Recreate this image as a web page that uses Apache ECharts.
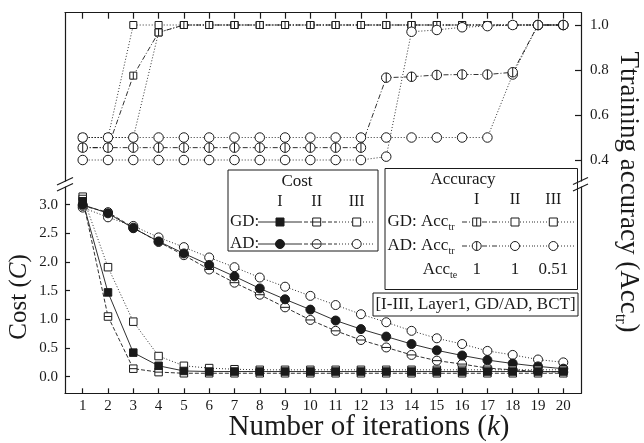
<!DOCTYPE html>
<html><head><meta charset="utf-8">
<script src="https://cdn.jsdelivr.net/npm/echarts@6/dist/echarts.min.js"></script>
<style>html,body{margin:0;padding:0;background:#fff}#c{width:644px;height:443px}</style>
</head><body><div id="c"></div>
<script>
// ---- data ----
const iterations = [1,2,3,4,5,6,7,8,9,10,11,12,13,14,15,16,17,18,19,20];
const costTicks = [0,0.5,1,1.5,2,2.5,3];
const accTicks = [0.4,0.6,0.8,1.0];
const costGD_I   = [3.06,1.47,0.42,0.19,0.10,0.09,0.09,0.09,0.09,0.09,0.09,0.09,0.09,0.09,0.09,0.09,0.09,0.09,0.09,0.09];
const costGD_II  = [3.10,1.05,0.14,0.08,0.06,0.06,0.06,0.06,0.06,0.06,0.06,0.06,0.06,0.06,0.06,0.06,0.06,0.06,0.06,0.06];
const costGD_III = [3.14,1.91,0.96,0.36,0.19,0.15,0.13,0.12,0.12,0.12,0.12,0.12,0.12,0.12,0.12,0.12,0.12,0.12,0.12,0.12];
const costAD_I   = [3.00,2.85,2.59,2.36,2.15,1.95,1.75,1.54,1.35,1.17,0.98,0.83,0.70,0.57,0.46,0.37,0.29,0.23,0.18,0.14];
const costAD_II  = [2.98,2.87,2.60,2.35,2.12,1.87,1.64,1.43,1.21,0.99,0.80,0.64,0.51,0.38,0.28,0.22,0.15,0.12,0.09,0.08];
const costAD_III = [2.95,2.78,2.63,2.43,2.26,2.08,1.91,1.73,1.57,1.41,1.25,1.09,0.95,0.80,0.67,0.57,0.45,0.38,0.30,0.25];
const accGD_I   = [0.455,0.455,0.775,0.967,1,1,1,1,1,1,1,1,1,1,1,1,1,1,1,1];
const accGD_II  = [0.5,0.5,1,1,1,1,1,1,1,1,1,1,1,1,1,1,1,1,1,1];
const accGD_III = [0.5,0.5,0.5,0.967,1,1,1,1,1,1,1,1,1,1,1,1,1,1,1,1];
const accAD_I   = [0.455,0.455,0.455,0.455,0.455,0.455,0.455,0.455,0.455,0.455,0.455,0.455,0.766,0.77,0.778,0.78,0.78,0.79,1,1];
const accAD_II  = [0.4,0.4,0.4,0.4,0.4,0.4,0.4,0.4,0.4,0.4,0.4,0.4,0.415,0.97,0.978,0.99,0.995,1,1,1];
const accAD_III = [0.5,0.5,0.5,0.5,0.5,0.5,0.5,0.5,0.5,0.5,0.5,0.5,0.5,0.5,0.5,0.5,0.5,0.78,1,1];
const accTestLabels = ['1','1','0.51'];
const columnLabels = ['I','II','III'];

// ---- style ----
const FONT = '"Liberation Serif", "Times New Roman", serif';
const INK = '#1a1a1a';
const DOT = [1,2], DASH = [4,2], DASHDOT = [5,2,1,2];
const SYM = {
  sqF: 'rect', sq: 'rect', ci: 'circle', ciF: 'circle',
  sqV: 'path://M0,0H10V10H0ZM5,0V10',
  sqH: 'path://M0,0H10V10H0ZM0,5H10',
  ciV: 'path://M5,0A5,5,0,1,1,5,10A5,5,0,1,1,5,0ZM5,0V10',
  ciH: 'path://M5,0A5,5,0,1,1,5,10A5,5,0,1,1,5,0ZM0,5H10'
};
function pairs(v){ return iterations.map((k,i)=>[k,v[i]]); }
function mk(name, vals, panel, kind, dash){
  const isSq = kind.startsWith('sq');
  const filled = kind.endsWith('F');
  const size = panel===0 ? (isSq?7:9.5) : (isSq?7.5:9);
  return {
    name, type:'line', xAxisIndex: panel, yAxisIndex: panel===0?0:2,
    data: pairs(vals), symbol: SYM[kind], symbolSize: size, showSymbol:true,
    animation:false, silent:true,
    lineStyle:{color:INK, width:0.9, type:dash},
    itemStyle:{color: filled?INK:'#fff', borderColor:INK, borderWidth:1},
    emphasis:{disabled:true}
  };
}
const seriesList = [
  mk('accGD_III', accGD_III, 0, 'sq', DOT),
  mk('accGD_II', accGD_II, 0, 'sq', DOT),
  mk('accGD_I', accGD_I, 0, 'sqV', DASHDOT),
  mk('accAD_II', accAD_II, 0, 'ci', DOT),
  mk('accAD_III', accAD_III, 0, 'ci', DOT),
  mk('accAD_I', accAD_I, 0, 'ciV', DASHDOT),
  mk('costAD_III', costAD_III, 1, 'ci', DOT),
  mk('costAD_II', costAD_II, 1, 'ciH', DASH),
  mk('costAD_I', costAD_I, 1, 'ciF', 'solid'),
  mk('costGD_III', costGD_III, 1, 'sq', DOT),
  mk('costGD_II', costGD_II, 1, 'sqH', DASH),
  mk('costGD_I', costGD_I, 1, 'sqF', 'solid')
];

const axisLine = {show:true, onZero:false, lineStyle:{color:INK, width:1.2}};
const tickStyle = {color:INK, width:1.2};
const labelStyle = {fontSize:15, fontFamily:FONT, color:INK};
const noSplit = {show:false};

// ---- graphic helpers ----
function txt(x,y,text,size,align,extra){
  return Object.assign({type:'text', x, y, z:100, silent:true, style:{text, fill:INK, font: size+'px '+FONT, align:align||'center', verticalAlign:'middle', textAlign:align||'center', textVerticalAlign:'middle'}}, extra||{});
}
function richTxt(x,y,parts,size,rotation){
  const text = parts.map(p=>'{'+p[1]+'|'+p[0]+'}').join('');
  return {type:'text', x, y, rotation: rotation||0, z:100, silent:true, style:{
    text, align:'center', verticalAlign:'middle', textAlign:'center', textVerticalAlign:'middle',
    rich:{
      n:{fontSize:size, fontFamily:FONT, fill:INK, lineHeight:size+4, verticalAlign:'middle'},
      i:{fontSize:size, fontFamily:FONT, fontStyle:'italic', fill:INK, lineHeight:size+4, verticalAlign:'middle'},
      s:{fontSize:Math.round(size*0.6), fontFamily:FONT, fill:INK, lineHeight:size+4, verticalAlign:'bottom'}
    }}};
}
function seg(x1,y1,x2,y2,dash,w){
  return {type:'line', z:100, silent:true, shape:{x1,y1,x2,y2}, style:{stroke:INK, lineWidth:w||0.9, lineDash: dash||null}};
}
function marker(kind,cx,cy){
  const out=[]; const filled = kind.endsWith('F');
  const st = {fill: filled?INK:'#fff', stroke:INK, lineWidth:1};
  if(kind.startsWith('sq')){
    out.push({type:'rect', z:101, silent:true, shape:{x:cx-4,y:cy-4,width:8,height:8}, style:st});
    if(kind==='sqH') out.push(Object.assign(seg(cx-4,cy,cx+4,cy,null,1),{z:102}));
    if(kind==='sqV') out.push(Object.assign(seg(cx,cy-4,cx,cy+4,null,1),{z:102}));
  } else {
    out.push({type:'circle', z:101, silent:true, shape:{cx,cy,r:4.5}, style:st});
    if(kind==='ciH') out.push(Object.assign(seg(cx-4.5,cy,cx+4.5,cy,null,1),{z:102}));
    if(kind==='ciV') out.push(Object.assign(seg(cx,cy-4.5,cx,cy+4.5,null,1),{z:102}));
  }
  return out;
}
function box(x,y,w,h){
  return {type:'rect', z:99, silent:true, shape:{x,y,width:w,height:h}, style:{fill:'#fff', stroke:INK, lineWidth:1}};
}

const g = [];
// break marks
g.push(seg(57,185,73,177.5,null,1.1), seg(57,191,73,183.5,null,1.1));
g.push(seg(573,184.5,588,177.5,null,1.1), seg(573,191,588,184,null,1.1));
// titles
g.push(richTxt(19,297,[['Cost (','n'],['C','i'],[')','n']],25,Math.PI/2));
g.push(richTxt(628,192,[['Ttraining accuracy (Acc','n'],['tr','s'],[')','n']],27,-Math.PI/2));
g.push(richTxt(369,427,[['Number of iterations (','n'],['k','i'],[')','n']],29,0));

// Cost legend box
g.push(box(228,170,150,81));
g.push(txt(297,182,'Cost',17));
const cCols=[280,316.7,356.7];
columnLabels.forEach((c,i)=>g.push(txt(cCols[i],202,c,16)));
[[222,['sqF','sqH','sq'],'GD:'],[244,['ciF','ciH','ci'],'AD:']].forEach(([y,kinds,lab])=>{
  g.push(txt(230,y,lab,17,'left'));
  g.push(seg(258,y,298,y,null), seg(298,y,336,y,DASH), seg(336,y,375,y,DOT));
  kinds.forEach((k,i)=>g.push(...marker(k,cCols[i],y)));
});

// Accuracy legend box
g.push(box(385,168.5,192.5,121));
g.push(txt(463,180,'Accuracy',17));
const aCols=[476.7,515,553.3];
columnLabels.forEach((c,i)=>g.push(txt(aCols[i],200,c,16)));
[[222,['sqV','sq','sq'],'GD: Acc'],[246,['ciV','ci','ci'],'AD: Acc']].forEach(([y,kinds,lab])=>{
  const t = richTxt(0,0,[[lab,'n'],['tr','s']],17,0);
  t.x = 421; t.y = y;
  g.push(t);
  g.push(seg(462,y,496,y,DASHDOT), seg(496,y,534,y,DOT), seg(534,y,575,y,DOT));
  kinds.forEach((k,i)=>g.push(...marker(k,aCols[i],y)));
});
g.push(richTxt(440,270,[['Acc','n'],['te','s']],17,0));
accTestLabels.forEach((v,i)=>g.push(txt(aCols[i],270,v,17)));

// condition label
g.push(box(373,293,205,23));
g.push(txt(475.5,304.5,'[I-III, Layer1, GD/AD, BCT]',17));

const option = {
  animation:false,
  backgroundColor:'#fff',
  grid:[
    {left:65, right:63, top:12.7, height:168.3},
    {left:65, right:63, top:187, height:206.3}
  ],
  xAxis:[
    {gridIndex:0, type:'value', min:0.3, max:20.7, position:'top', axisLine,
     axisTick:{show:true, inside:true, length:6, customValues:iterations, lineStyle:tickStyle},
     axisLabel:{show:false}, splitLine:noSplit},
    {gridIndex:1, type:'value', min:0.3, max:20.7, position:'bottom', axisLine,
     axisTick:{show:true, inside:true, length:5, customValues:iterations, lineStyle:tickStyle},
     axisLabel:Object.assign({customValues:iterations, margin:5}, labelStyle), splitLine:noSplit}
  ],
  yAxis:[
    {gridIndex:0, type:'value', min:0.3067, max:1.0547, position:'right', axisLine,
     axisTick:{show:true, inside:true, length:6, customValues:accTicks, lineStyle:tickStyle},
     axisLabel:Object.assign({customValues:accTicks, margin:9, formatter:v=>Number(v).toFixed(1)}, labelStyle), splitLine:noSplit},
    {gridIndex:0, type:'value', min:0.3067, max:1.0547, position:'left', axisLine,
     axisTick:{show:false}, axisLabel:{show:false}, splitLine:noSplit},
    {gridIndex:1, type:'value', min:-0.2896, max:3.309, position:'left', axisLine,
     axisTick:{show:true, inside:true, length:5, customValues:costTicks, lineStyle:tickStyle},
     axisLabel:Object.assign({customValues:costTicks, margin:7, formatter:v=>Number(v).toFixed(1)}, labelStyle), splitLine:noSplit},
    {gridIndex:1, type:'value', min:-0.2896, max:3.309, position:'right', axisLine,
     axisTick:{show:false}, axisLabel:{show:false}, splitLine:noSplit}
  ],
  series: seriesList,
  graphic: g
};
const chart = echarts.init(document.getElementById('c'), null, {renderer:'canvas'});
chart.setOption(option);
</script></body></html>
